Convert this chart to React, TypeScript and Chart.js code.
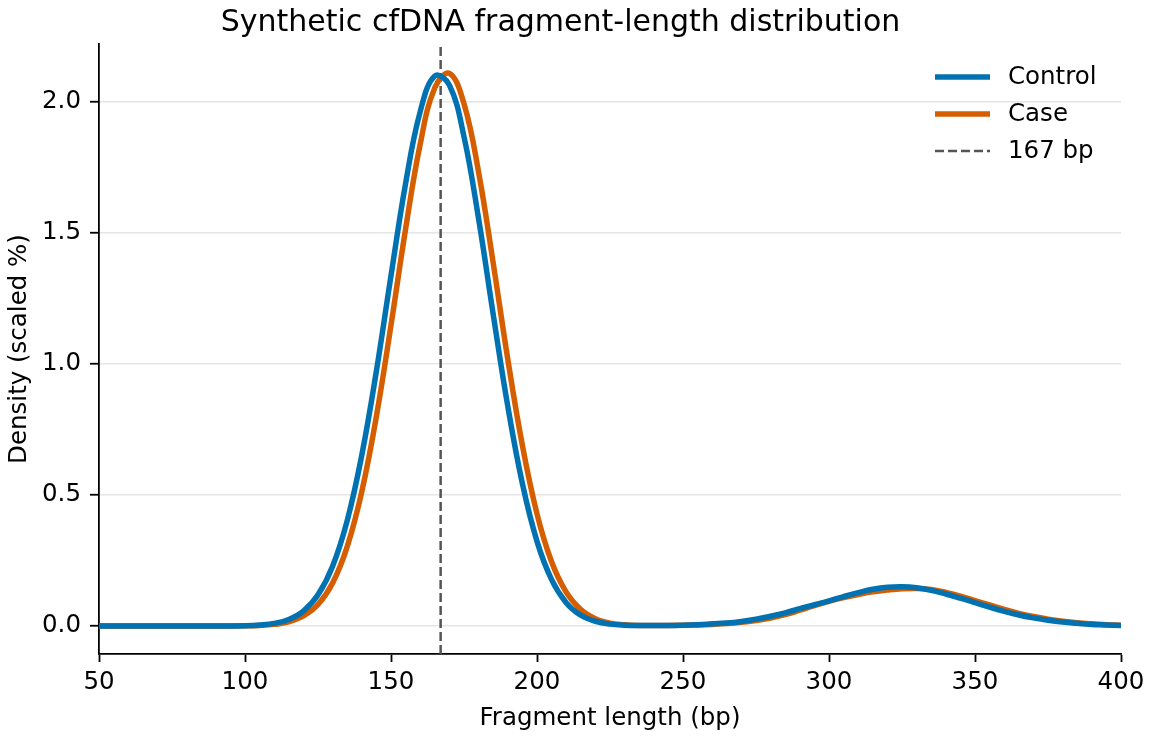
import React, { useEffect, useRef } from "react";
import { Chart, registerables } from "chart.js";

Chart.register(...registerables);

// fragment lengths (bp), every 5 bp
const lengths = [
  50, 55, 60, 65, 70, 75, 80, 85, 90, 95, 100, 105, 110, 115, 120, 125, 130,
  135, 140, 145, 150, 155, 160, 165, 170, 175, 180, 185, 190, 195, 200, 205,
  210, 215, 220, 225, 230, 235, 240, 245, 250, 255, 260, 265, 270, 275, 280,
  285, 290, 295, 300, 305, 310, 315, 320, 325, 330, 335, 340, 345, 350, 355,
  360, 365, 370, 375, 380, 385, 390, 395, 400,
];

const controlDensity = [
  0, 0, 0, 0, 0, 0, 0, 0, 0, 0, 0.001, 0.004, 0.01, 0.025, 0.057, 0.119,
  0.228, 0.402, 0.652, 0.973, 1.337, 1.689, 1.963, 2.099, 2.064, 1.867, 1.554,
  1.189, 0.838, 0.543, 0.323, 0.177, 0.089, 0.041, 0.018, 0.007, 0.003, 0.002,
  0.002, 0.002, 0.003, 0.005, 0.008, 0.011, 0.017, 0.026, 0.037, 0.05, 0.066,
  0.081, 0.096, 0.112, 0.127, 0.14, 0.148, 0.15, 0.146, 0.136, 0.122, 0.106,
  0.089, 0.072, 0.056, 0.042, 0.031, 0.022, 0.015, 0.01, 0.006, 0.004, 0.002,
];

const caseDensity = [
  0, 0, 0, 0, 0, 0, 0, 0, 0, 0, 0.001, 0.002, 0.006, 0.016, 0.038, 0.082,
  0.164, 0.303, 0.513, 0.8, 1.148, 1.515, 1.839, 2.054, 2.109, 1.993, 1.732,
  1.385, 1.018, 0.689, 0.428, 0.245, 0.129, 0.063, 0.028, 0.011, 0.005, 0.002,
  0.002, 0.002, 0.003, 0.004, 0.006, 0.009, 0.014, 0.021, 0.03, 0.043, 0.06,
  0.078, 0.094, 0.108, 0.12, 0.13, 0.137, 0.142, 0.143, 0.139, 0.128, 0.114,
  0.097, 0.08, 0.063, 0.048, 0.036, 0.026, 0.018, 0.012, 0.008, 0.005, 0.003,
];

const markerBp = 167;
const yMin = -0.107;
const yMax = 2.221;

const FONT = "'DejaVu Sans', sans-serif";

// legend drawn inside the plot, top right, no frame
const insideLegend = {
  id: "insideLegend",
  afterDraw(chart: any) {
    const { ctx, chartArea } = chart;
    ctx.save();
    ctx.font = `24.5px ${FONT}`;
    ctx.textBaseline = "middle";
    ctx.textAlign = "left";
    chart.data.datasets.forEach((ds: any, i: number) => {
      const y = chartArea.top + 33 + i * 37;
      const x0 = chartArea.right - 186;
      const x1 = chartArea.right - 131;
      ctx.beginPath();
      ctx.strokeStyle = ds.borderColor;
      ctx.lineWidth = ds.borderWidth;
      ctx.setLineDash(ds.borderDash || []);
      ctx.moveTo(x0, y);
      ctx.lineTo(x1, y);
      ctx.stroke();
      ctx.setLineDash([]);
      ctx.fillStyle = "#000";
      ctx.fillText(ds.label, chartArea.right - 113, y + 1);
    });
    ctx.restore();
  },
};

const App: React.FC = () => {
  const canvasRef = useRef<HTMLCanvasElement | null>(null);
  const chartRef = useRef<Chart | null>(null);

  useEffect(() => {
    document.body.style.margin = "0";
    const ctx = canvasRef.current?.getContext("2d");
    if (!ctx) return;
    if (chartRef.current) chartRef.current.destroy();

    chartRef.current = new Chart(ctx, {
      type: "line",
      data: {
        datasets: [
          {
            label: "Control",
            data: lengths.map((x, i) => ({ x, y: controlDensity[i] })),
            borderColor: "#0072B2",
            borderWidth: 5.5,
            pointRadius: 0,
            tension: 0.4,
          },
          {
            label: "Case",
            data: lengths.map((x, i) => ({ x, y: caseDensity[i] })),
            borderColor: "#D55E00",
            borderWidth: 5.5,
            pointRadius: 0,
            tension: 0.4,
          },
          {
            label: `${markerBp} bp`,
            data: [
              { x: markerBp, y: yMin },
              { x: markerBp, y: yMax },
            ],
            borderColor: "#555555",
            borderWidth: 2.5,
            borderDash: [9, 4],
            pointRadius: 0,
          },
        ],
      },
      options: {
        responsive: false,
        animation: false,
        layout: { padding: { left: 0, right: 31, top: 0, bottom: 0 } },
        plugins: {
          legend: { display: false },
          tooltip: { enabled: false },
          title: {
            display: true,
            text: "Synthetic cfDNA fragment-length distribution",
            color: "#000",
            font: { family: FONT, size: 30, weight: "normal" },
            padding: { top: 5, bottom: 3 },
          },
        },
        scales: {
          x: {
            type: "linear",
            min: 50,
            max: 400,
            afterFit: (scale: any) => {
              scale.height = 83;
            },
            ticks: {
              stepSize: 50,
              color: "#000",
              font: { family: FONT, size: 24.5 },
              padding: 6,
              maxRotation: 0,
            },
            grid: {
              drawOnChartArea: false,
              drawTicks: true,
              tickLength: 8,
              tickColor: "#000",
              tickWidth: 1.8,
            },
            border: { color: "#000", width: 1.8 },
            title: {
              display: true,
              text: "Fragment length (bp)",
              color: "#000",
              font: { family: FONT, size: 24.5 },
              padding: { top: 0, bottom: 4 },
            },
          },
          y: {
            type: "linear",
            min: yMin,
            max: yMax,
            afterFit: (scale: any) => {
              scale.width = 99;
            },
            ticks: {
              stepSize: 0.5,
              includeBounds: false,
              color: "#000",
              font: { family: FONT, size: 24.5 },
              padding: 9,
              callback: (v: any) => Number(v).toFixed(1),
            },
            grid: {
              color: "#e5e5e5",
              lineWidth: 1.5,
              drawTicks: true,
              tickLength: 9,
              tickColor: "#000",
              tickWidth: 1.8,
            },
            border: { color: "#000", width: 1.8 },
            title: {
              display: true,
              text: "Density (scaled %)",
              color: "#000",
              font: { family: FONT, size: 24.5 },
              padding: { top: 5, bottom: 0 },
            },
          },
        },
      },
      plugins: [insideLegend],
    });

    return () => {
      if (chartRef.current) {
        chartRef.current.destroy();
        chartRef.current = null;
      }
    };
  }, []);

  return (
    <div style={{ width: 1152, height: 737, background: "#fff" }}>
      <canvas ref={canvasRef} width={1152} height={737} />
    </div>
  );
};

export default App;
